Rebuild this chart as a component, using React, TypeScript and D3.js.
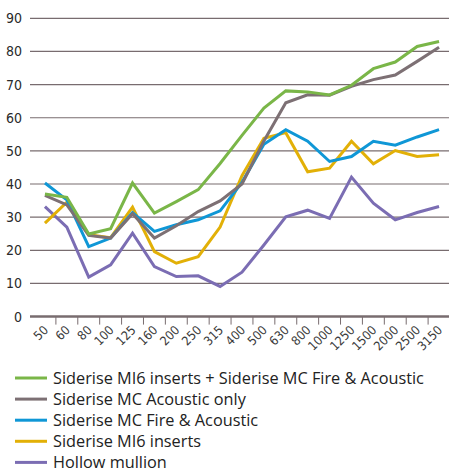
import React from "react";
import * as d3 from "d3";

const categories = ["50", "60", "80", "100", "125", "160", "200", "250", "315", "400", "500", "630", "800", "1000", "1250", "1500", "2000", "2500", "3150"];
const yTicks = [0, 10, 20, 30, 40, 50, 60, 70, 80, 90];

const seriesNames = [
  "Siderise MI6 inserts + Siderise MC Fire & Acoustic",
  "Siderise MC Acoustic only",
  "Siderise MC Fire & Acoustic",
  "Siderise MI6 inserts",
  "Hollow mullion",
];
const seriesColors = ["#7ab648", "#7d7074", "#0f97d6", "#e2b007", "#7b6db3"];

const greenValues = [37.0, 36.0, 24.9, 26.5, 40.3, 31.2, 34.7, 38.3, 46.2, 54.7, 62.9, 68.1, 67.8, 66.9, 69.8, 74.8, 76.8, 81.5, 83.0];
const greyValues = [36.6, 33.7, 24.5, 23.7, 31.0, 23.7, 27.4, 31.7, 34.9, 40.0, 53.0, 64.5, 66.9, 66.8, 69.5, 71.5, 72.9, 77.0, 81.3];
const blueValues = [40.3, 35.2, 21.1, 23.7, 31.4, 25.7, 27.7, 29.2, 31.9, 40.5, 52.0, 56.4, 52.9, 46.8, 48.3, 52.9, 51.7, 54.2, 56.4];
const yellowValues = [28.2, 34.5, 24.7, 23.8, 33.0, 19.6, 16.1, 18.1, 27.0, 42.5, 53.8, 55.5, 43.7, 44.8, 52.9, 46.1, 50.1, 48.3, 48.8];
const purpleValues = [33.2, 27.0, 11.9, 15.6, 25.2, 15.1, 12.1, 12.3, 9.1, 13.4, 21.6, 30.1, 32.1, 29.6, 42.1, 34.2, 29.2, 31.4, 33.2];

const allSeries = [greenValues, greyValues, blueValues, yellowValues, purpleValues];
const drawOrder = [4, 3, 2, 1, 0];

const W = 451;
const H = 473;

export default function App() {
  const x = d3.scaleBand<string>().domain(categories).range([34, 450]);
  const y = d3.scaleLinear().domain([0, 90]).range([316.6, 18.3]);
  const line = d3
    .line<number>()
    .x((_, i) => (x(categories[i]) as number) + x.bandwidth() / 2)
    .y((d) => y(d));

  const axisFont = "'Liberation Sans Narrow', 'DejaVu Sans Condensed', sans-serif";
  const gridColor = "#786c6f";

  return (
    <svg width={W} height={H} style={{ position: "absolute", left: 0, top: 0 }}>
      <rect width={W} height={H} fill="#ffffff" />
      {yTicks.map((t) => (
        <g key={t}>
          {t > 0 && (
            <line x1={30} x2={449} y1={y(t)} y2={y(t)} stroke={gridColor} strokeWidth={1.2} />
          )}
          <text
            x={22}
            y={y(t)}
            dy="0.36em"
            textAnchor="end"
            fontFamily={axisFont}
            fontSize={14}
            fill="#2a2a2a"
          >
            {t}
          </text>
        </g>
      ))}
      {categories.slice(1).map((c) => (
        <line
          key={c}
          x1={x(c) as number}
          x2={x(c) as number}
          y1={y(0)}
          y2={y(0) + 8}
          stroke={gridColor}
          strokeWidth={1}
        />
      ))}
      <line x1={30} x2={449} y1={y(0)} y2={y(0)} stroke={gridColor} strokeWidth={2.5} />
      {categories.map((c) => {
        const cx = (x(c) as number) + x.bandwidth() / 2;
        return (
          <text
            key={c}
            transform={`translate(${cx + 4},${331}) rotate(-45)`}
            textAnchor="end"
            fontFamily={axisFont}
            fontSize={12.5}
            fill="#3a3a3a"
          >
            {c}
          </text>
        );
      })}
      {drawOrder.map((si) => (
        <path
          key={si}
          d={line(allSeries[si]) as string}
          fill="none"
          stroke={seriesColors[si]}
          strokeWidth={3}
          strokeLinejoin="miter"
        />
      ))}
      {seriesNames.map((name, i) => {
        const ly = 378 + i * 21.1;
        return (
          <g key={name}>
            <line x1={15} x2={47} y1={ly} y2={ly} stroke={seriesColors[i]} strokeWidth={3} />
            <text
              x={53}
              y={ly}
              dy="0.34em"
              fontFamily="'Open Sans', sans-serif"
              fontSize={16.3}
              fill="#222222"
            >
              {name}
            </text>
          </g>
        );
      })}
    </svg>
  );
}
